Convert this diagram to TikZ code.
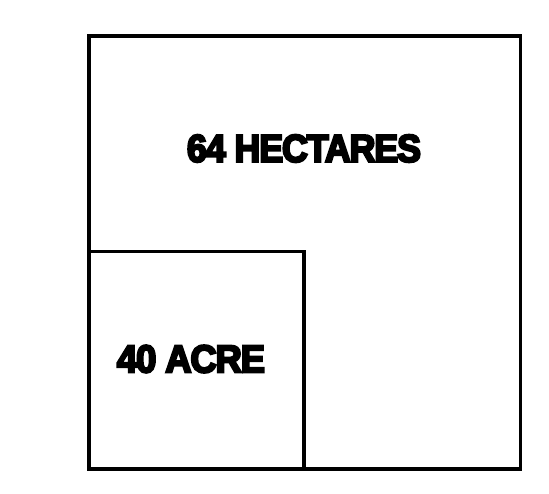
\documentclass[tikz,border=0pt]{standalone}
\usepackage{fontspec}
\setmainfont{Liberation Sans}
\newfontfamily\heavyfont[FakeBold=6,LetterSpace=-3]{Liberation Sans Bold}
\usepackage{graphicx}
\usetikzlibrary{positioning}

\begin{document}
\begin{tikzpicture}[x=1pt,y=-1pt,
  field/.style={draw=black,line width=3.6pt,line join=miter},
  area/.style={inner sep=0pt,font=\heavyfont}]
  \useasboundingbox (0,0) rectangle (549,493);

  % Outer field and inner plot
  \coordinate (outerTL) at (89,36);
  \coordinate (outerBR) at (520.5,469);
  \coordinate (innerTL) at (89,251.5);
  \coordinate (innerBR) at (304,469);
  \draw[field] (outerTL) rectangle (outerBR);
  \draw[field] (innerTL) rectangle (innerBR);

  % Labels
  \node[area] (hectares) at (304,148.5) {\resizebox{234pt}{27pt}{64 HECTARES}};
  \node[area] (acre) at (191,359) {\resizebox{148pt}{27pt}{40 ACRE}};
\end{tikzpicture}
\end{document}
